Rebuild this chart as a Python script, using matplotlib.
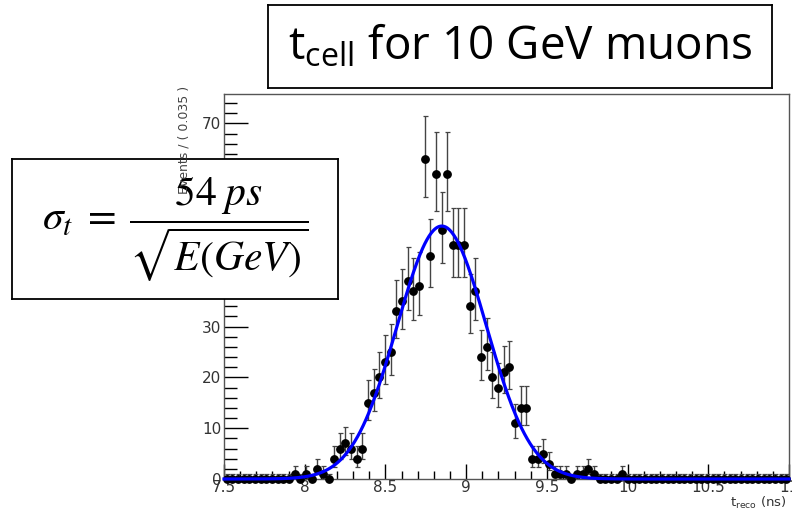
import numpy as np
import matplotlib
matplotlib.use("Agg")
import matplotlib.pyplot as plt
from matplotlib.ticker import MultipleLocator

# histogram: 100 bins of 0.035 ns between 7.5 and 11 ns
x_lo, x_hi, bin_w = 7.5, 11.0, 0.035
counts = [0] * 12 + [1, 0, 1, 0, 2, 1, 0, 4, 6, 7, 6, 4, 6,
                     15, 17, 20, 23, 25, 33, 35, 39, 37, 38,
                     63, 44, 60, 49, 60, 46, 46, 46, 34, 37,
                     24, 26, 20, 18, 21, 22, 11, 14, 14, 4,
                     4, 5, 3, 1, 1, 1, 0, 1, 1, 2, 1,
                     0, 0, 0, 0, 1] + [0] * 29

# gaussian fit
fit_mean, fit_sigma, fit_peak = 8.849, 0.276, 49.8

title_text = r"t$_{\mathregular{cell}}$ for 10 GeV muons"
formula_text = r"$\sigma_t \;=\; \dfrac{54\;ps}{\sqrt{E(GeV)}}$"

counts = np.array(counts, dtype=float)
centers = x_lo + bin_w * (np.arange(len(counts)) + 0.5)
# approximate poisson interval as used by RooFit
err_lo = np.sqrt(counts + 0.25) - 0.5
err_hi = np.sqrt(counts + 0.25) + 0.5

fig = plt.figure(figsize=(7.92, 5.11), dpi=100)
ax = fig.add_axes([224 / 792, (511 - 479) / 511, 565 / 792, 385 / 511])

ax.errorbar(centers, counts, yerr=[err_lo, err_hi], fmt="o", color="black",
            ecolor="#444444", elinewidth=1.0, capsize=1.8, capthick=0.9,
            markersize=5.3, zorder=3, clip_on=False)

xs = np.linspace(x_lo, x_hi, 800)
ax.plot(xs, fit_peak * np.exp(-0.5 * ((xs - fit_mean) / fit_sigma) ** 2),
        color="#0000ff", lw=2.3, zorder=4, clip_on=False)

ax.set_xlim(x_lo, x_hi)
ax.set_ylim(0, 75.8)
ax.xaxis.set_major_locator(MultipleLocator(0.5))
ax.xaxis.set_minor_locator(MultipleLocator(0.1))
ax.yaxis.set_major_locator(MultipleLocator(10))
ax.yaxis.set_minor_locator(MultipleLocator(2))
ax.xaxis.set_major_formatter(plt.FuncFormatter(lambda v, p: f"{v:g}"))
ax.tick_params(axis="x", which="major", direction="in", length=11, width=1, pad=1)
ax.tick_params(axis="x", which="minor", direction="in", length=5.5, width=1)
ax.tick_params(axis="y", which="major", direction="in", length=17, width=1, pad=2)
ax.tick_params(axis="y", which="minor", direction="in", length=9, width=1)
for lab in ax.get_xticklabels() + ax.get_yticklabels():
    lab.set_fontfamily("DejaVu Sans")
    lab.set_fontsize(11)
    lab.set_color("#333333")
for sp in ax.spines.values():
    sp.set_color("#555555")
    sp.set_linewidth(1.0)

fig.text(184 / 792, 1 - 86 / 511, "Events / ( 0.035 )", rotation=90,
         ha="center", va="top", fontsize=9, family="DejaVu Sans",
         color="#444444")
fig.text(787 / 792, 1 - 503 / 511, r"t$_{\mathregular{reco}}$ (ns)",
         ha="right", va="center", fontsize=9.5, family="DejaVu Sans",
         color="#333333")

# title box
tb = fig.add_axes([268 / 792, (511 - 88) / 511, 504 / 792, 83 / 511])
tb.set_xticks([])
tb.set_yticks([])
for sp in tb.spines.values():
    sp.set_linewidth(1.3)
tb.text(0.5, 0.5, title_text, ha="center", va="center", fontsize=33,
        family="Open Sans", transform=tb.transAxes)

# formula box
fb = fig.add_axes([12 / 792, (511 - 299) / 511, 326 / 792, 140 / 511])
fb.set_xticks([])
fb.set_yticks([])
for sp in fb.spines.values():
    sp.set_linewidth(1.3)
fb.text(0.5, 0.5, formula_text, ha="center", va="center", fontsize=30,
        math_fontfamily="stix", transform=fb.transAxes)

fig.savefig("out.png", dpi=100)
